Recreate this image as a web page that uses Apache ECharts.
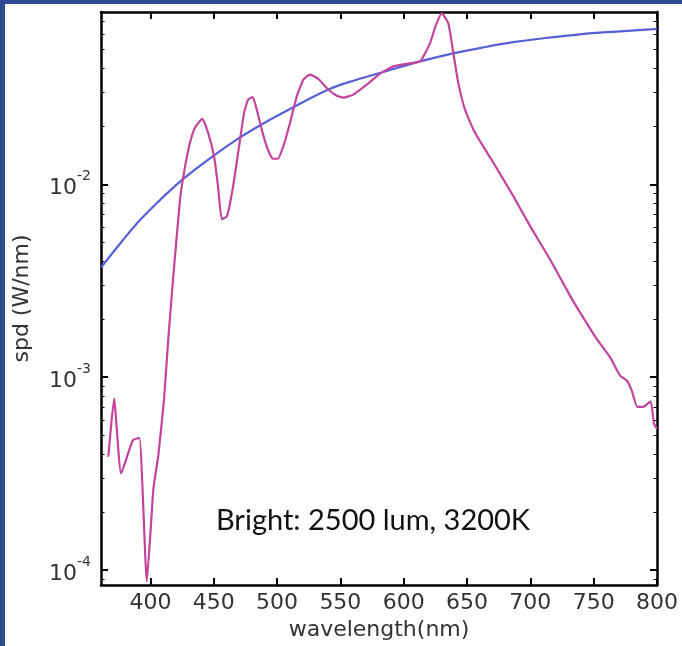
<!DOCTYPE html>
<html>
<head>
<meta charset="utf-8">
<script src="https://cdn.jsdelivr.net/npm/echarts@6/dist/echarts.min.js"></script>
<style>
html,body{margin:0;padding:0;background:#fff;}
#chart{width:682px;height:646px;}
</style>
</head>
<body>
<div id="chart"></div>
<script>
// ---- data ----
const ledWavelength = [366.8,371.3,376.9,386.1,391.3,397.2,402.4,406.3,410.8,414.2,417.5,423.4,427.4,431.3,435.3,441.0,445.5,450.3,453.4,456.4,460.5,465.3,470.0,474.0,477.1,480.8,484.0,487.9,492.7,496.6,500.6,505.0,510.3,515.6,520.8,526.1,532.6,539.2,547.1,552.4,560.2,570.8,581.3,591.8,602.4,612.9,620.8,625.5,630.0,635.2,639.2,643.1,648.4,656.3,670.8,686.5,699.7,715.5,731.3,739.2,752.4,762.9,770.8,776.1,780.0,784.4,789.2,795.0,797.6,800];
const ledSpd = [3.87e-4,7.74e-4,3.17e-4,4.71e-4,4.85e-4,8.75e-5,2.65e-4,3.95e-4,7.74e-4,1.6e-3,3.0e-3,8.36e-3,0.01239,0.01648,0.01972,0.02188,0.01858,0.01396,0.00977,0.00659,0.00684,0.00977,0.0157,0.02355,0.02748,0.02838,0.0244,0.01923,0.01517,0.01358,0.01358,0.01578,0.02089,0.02858,0.0349,0.0371,0.0352,0.0316,0.0288,0.0282,0.0292,0.0329,0.0375,0.0409,0.0422,0.0434,0.054,0.0671,0.0771,0.0685,0.048,0.0336,0.0244,0.0185,0.01294,0.0087,0.00609,0.00409,0.00265,0.00217,0.00158,0.00127,0.00102,9.62e-4,8.55e-4,7.02e-4,7.02e-4,7.5e-4,5.75e-4,5.4e-4];
const bbWavelength = [361.1,378.7,392.0,405.1,426.0,449.7,470.8,489.2,512.9,541.9,562.9,581.3,612.9,639.2,662.0,686.5,712.0,739.2,768.0,797.1,800];
const bbSpd = [3.71e-3,5.18e-3,6.55e-3,8.0e-3,0.01068,0.01405,0.01752,0.0207,0.0251,0.0313,0.0349,0.0378,0.0434,0.0478,0.0512,0.0546,0.0574,0.0600,0.0620,0.0638,0.064];
const xTicks = [400,450,500,550,600,650,700,750,800];
const yMajorTicks = [1e-4,1e-3,1e-2];
const xRange = [361,800];
const yRange = [8.37e-5,0.0783];
const annotation = 'Bright: 2500 lum, 3200K';
// ---------------------------------------

const yMinorTicks = [];
for (let d = -5; d <= -1; d++) {
  for (let k = 2; k <= 9; k++) {
    const v = k * Math.pow(10, d);
    if (v > yRange[0] && v < yRange[1]) yMinorTicks.push(v);
  }
}
const pairs = (xs, ys) => xs.map((x, i) => [x, ys[i]]);

const FONT = 'DejaVu Sans';
const LBL = '#333';
const frame = {show: true, lineStyle: {color: '#000', width: 2.5}};

const chart = echarts.init(document.getElementById('chart'), null, {renderer: 'canvas'});
chart.setOption({
  backgroundColor: '#fff',
  animation: false,
  grid: {left: 101, top: 12, right: 25, bottom: 59, containLabel: false},
  xAxis: [
    {
      type: 'value', min: xRange[0], max: xRange[1], position: 'bottom',
      axisLine: frame,
      axisTick: {show: true, inside: true, length: 7, customValues: xTicks, lineStyle: {color: '#000', width: 2}},
      axisLabel: {customValues: xTicks, color: LBL, fontFamily: FONT, fontSize: 22, margin: 7},
      splitLine: {show: false},
      name: 'wavelength(nm)', nameLocation: 'middle', nameGap: 34,
      nameTextStyle: {color: LBL, fontFamily: FONT, fontSize: 22}
    },
    {
      type: 'value', min: xRange[0], max: xRange[1], position: 'top',
      axisLine: frame,
      axisTick: {show: true, inside: true, length: 7, customValues: xTicks, lineStyle: {color: '#000', width: 2}},
      axisLabel: {show: false},
      splitLine: {show: false}
    }
  ],
  yAxis: [
    {
      type: 'log', logBase: 10, min: yRange[0], max: yRange[1], position: 'left',
      axisLine: frame,
      axisTick: {show: true, inside: true, length: 7, customValues: yMajorTicks, lineStyle: {color: '#000', width: 2}},
      axisLabel: {
        customValues: yMajorTicks, margin: 10,
        formatter: v => '{b|10}{s|' + Math.round(Math.log10(v)) + '}',
        rich: {
          b: {color: LBL, fontFamily: FONT, fontSize: 22, lineHeight: 30, verticalAlign: 'bottom'},
          s: {color: LBL, fontFamily: FONT, fontSize: 14, lineHeight: 14, verticalAlign: 'top'}
        }
      },
      splitLine: {show: false},
      name: 'spd (W/nm)', nameLocation: 'middle', nameGap: 68, nameRotate: 90,
      nameTextStyle: {color: LBL, fontFamily: FONT, fontSize: 22}
    },
    {
      type: 'log', logBase: 10, min: yRange[0], max: yRange[1], position: 'left',
      axisLine: {show: false},
      axisTick: {show: true, inside: true, length: 3.5, customValues: yMinorTicks, lineStyle: {color: '#000', width: 1}},
      axisLabel: {show: false}, splitLine: {show: false}
    },
    {
      type: 'log', logBase: 10, min: yRange[0], max: yRange[1], position: 'right',
      axisLine: frame,
      axisTick: {show: true, inside: true, length: 7, customValues: yMajorTicks, lineStyle: {color: '#000', width: 2}},
      axisLabel: {show: false}, splitLine: {show: false}
    },
    {
      type: 'log', logBase: 10, min: yRange[0], max: yRange[1], position: 'right',
      axisLine: {show: false},
      axisTick: {show: true, inside: true, length: 3.5, customValues: yMinorTicks, lineStyle: {color: '#000', width: 1}},
      axisLabel: {show: false}, splitLine: {show: false}
    }
  ],
  series: [
    {
      type: 'line', xAxisIndex: 0, yAxisIndex: 0, data: pairs(bbWavelength, bbSpd),
      showSymbol: false, smooth: 0.4, clip: true,
      lineStyle: {color: '#5560d6', width: 2.2}, z: 2
    },
    {
      type: 'line', xAxisIndex: 0, yAxisIndex: 0, data: pairs(ledWavelength, ledSpd),
      showSymbol: false, smooth: 0.15, clip: true,
      lineStyle: {color: '#c2449c', width: 2.2}, z: 3
    }
  ],
  graphic: [
    {type: 'rect', left: 0, top: 0, shape: {width: 5, height: 646}, style: {fill: '#2d4b8e'}, z: 100},
    {type: 'rect', left: 0, top: 0, shape: {width: 682, height: 4}, style: {fill: '#2d4b8e'}, z: 100},
    {type: 'text', x: 373, y: 521, style: {text: annotation, fontFamily: 'Lato', fontSize: 29, fill: '#111', align: 'center', verticalAlign: 'middle'}, z: 100}
  ]
});
</script>
</body>
</html>
